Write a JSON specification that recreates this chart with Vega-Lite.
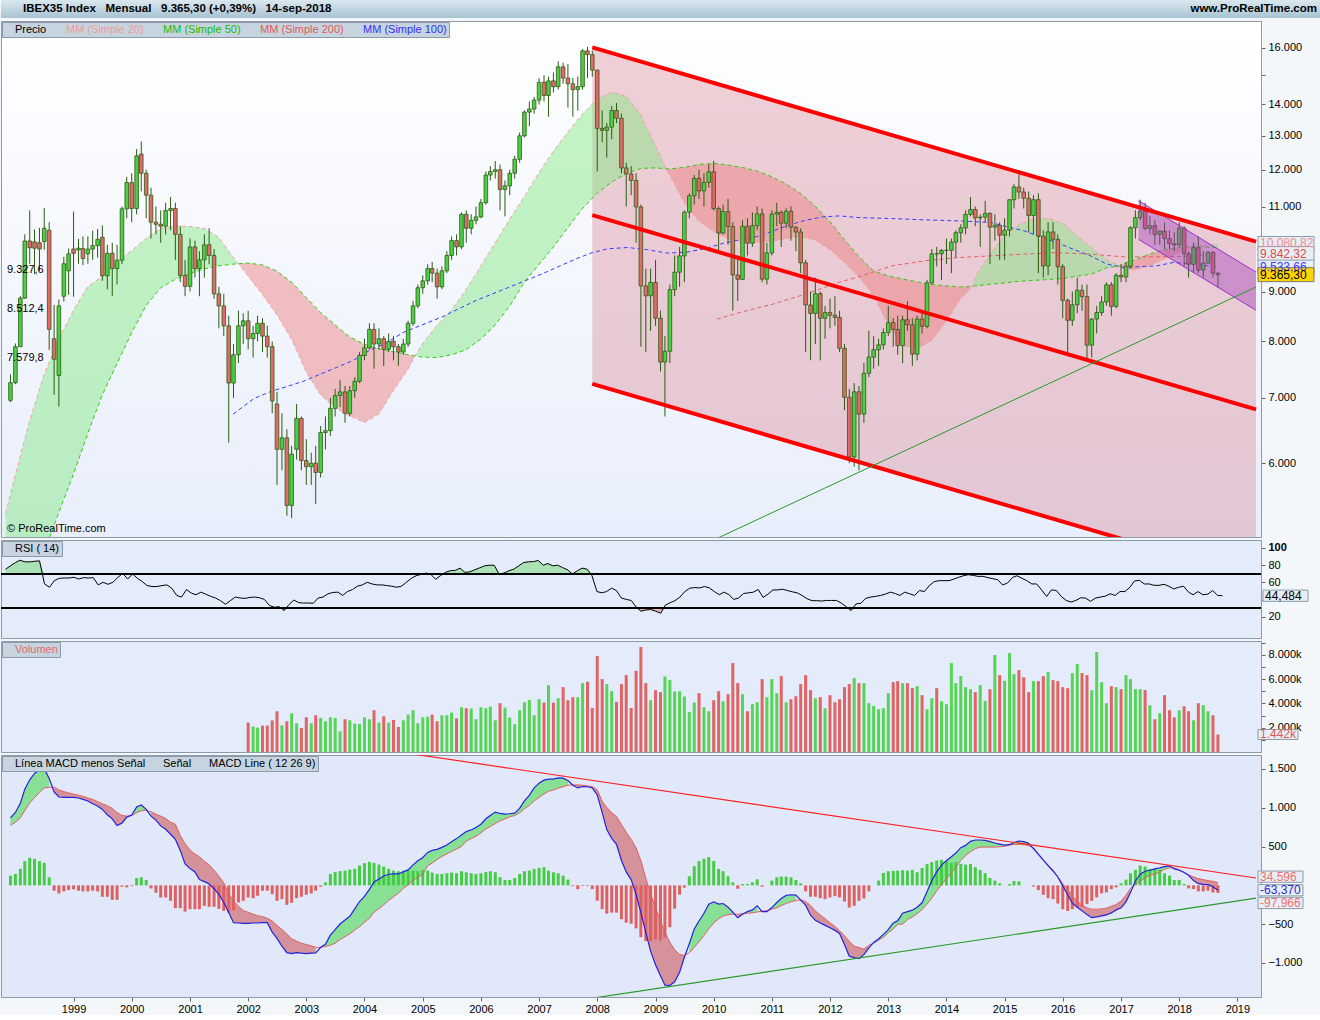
{
"$schema":"https://vega.github.io/schema/vega-lite/v6.json",
"padding":0,
"background":"#f4f7fa",
"spacing":3,
"bounds":"flush",
"config":{"font":"Liberation Sans","view":{"stroke":"#8b9bab"},"axis":{"labelFont":"Liberation Sans","labelFontSize":11,"labelColor":"#000000","tickColor":"#666666","domainColor":"#8b9bab","grid":false,"title":null,"labelOverlap":false},"text":{"font":"Liberation Sans","fontSize":11},"legend":{"labelFont":"Liberation Sans","labelFontSize":11,"symbolSize":0,"symbolStrokeWidth":0,"symbolOpacity":0,"labelOffset":0,"padding":2,"columnPadding":8,"fillColor":"#c6d4e0","strokeColor":"#8b9bab","orient":"top-left","offset":1,"direction":"horizontal"}},
"datasets":{
"hdr":[{"pos":"L","t":"IBEX35 Index\u00a0\u00a0\u00a0Mensual\u00a0\u00a0\u00a09.365,30 (+0,39%)\u00a0\u00a0\u00a014-sep-2018"},{"pos":"R","t":"www.ProRealTime.com"}],
"mn":[
{"d":"1997-12-01","o":6960,"h":7400,"l":6930,"c":7255,"r":75.2,"mc":870,"sl":771,"hs":125,"sq":1},
{"d":"1998-01-01","o":7255,"h":7960,"l":7230,"c":7900,"r":79.1,"mc":939,"sl":814,"hs":147,"sq":1},
{"d":"1998-02-01","o":7900,"h":8900,"l":7900,"c":8860,"r":82.9,"mc":1056,"sl":870,"hs":212,"sq":1},
{"d":"1998-03-01","o":8860,"h":10300,"l":8850,"c":10140,"r":85.6,"mc":1238,"sl":965,"hs":312,"sq":1},
{"d":"1998-04-01","o":10140,"h":10900,"l":9610,"c":9980,"r":83.7,"mc":1359,"sl":1060,"hs":355,"sq":1},
{"d":"1998-05-01","o":10120,"h":10420,"l":9380,"c":9970,"r":83.7,"mc":1442,"sl":1130,"hs":342,"sq":1},
{"d":"1998-06-01","o":10100,"h":10460,"l":9450,"c":9950,"r":84.4,"mc":1485,"sl":1199,"hs":312,"sq":1},
{"d":"1998-07-01","o":10130,"h":10960,"l":9930,"c":10450,"r":84.8,"mc":1502,"sl":1255,"hs":290,"sq":1},
{"d":"1998-08-01","o":10400,"h":10600,"l":7840,"c":8230,"r":58.1,"mc":1377,"sl":1264,"hs":104,"sq":1},
{"d":"1998-09-01","o":8050,"h":8720,"l":7050,"c":7670,"r":54.3,"mc":1203,"sl":1264,"hs":-69,"sq":2},
{"d":"1998-10-01","o":7380,"h":8830,"l":6860,"c":8700,"r":61.9,"mc":1138,"sl":1229,"hs":-104,"sq":2},
{"d":"1998-11-01","o":8900,"h":9770,"l":8790,"c":9610,"r":64.6,"mc":1134,"sl":1208,"hs":-78,"sq":2},
{"d":"1998-12-01","o":9450,"h":9960,"l":8930,"c":9837,"r":65.0,"mc":1134,"sl":1190,"hs":-61,"sq":2},
{"d":"1999-01-01","o":9950,"h":10870,"l":8890,"c":9850,"r":65.0,"mc":1134,"sl":1177,"hs":-52,"sq":2},
{"d":"1999-02-01","o":9930,"h":10190,"l":9610,"c":9970,"r":65.8,"mc":1125,"sl":1160,"hs":-69,"sq":2},
{"d":"1999-03-01","o":9960,"h":10250,"l":9580,"c":9730,"r":63.8,"mc":1108,"sl":1147,"hs":-78,"sq":2},
{"d":"1999-04-01","o":9840,"h":10250,"l":9610,"c":9950,"r":65.4,"mc":1087,"sl":1125,"hs":-78,"sq":2},
{"d":"1999-05-01","o":9950,"h":10390,"l":9700,"c":10030,"r":65.0,"mc":1052,"sl":1108,"hs":-69,"sq":2},
{"d":"1999-06-01","o":10030,"h":10430,"l":9750,"c":10180,"r":65.4,"mc":1022,"sl":1078,"hs":-78,"sq":2},
{"d":"1999-07-01","o":10230,"h":10520,"l":9230,"c":9340,"r":57.0,"mc":978,"sl":1052,"hs":-147,"sq":2},
{"d":"1999-08-01","o":9340,"h":10050,"l":9050,"c":9850,"r":60.0,"mc":909,"sl":1026,"hs":-147,"sq":2},
{"d":"1999-09-01","o":9850,"h":10100,"l":8900,"c":9500,"r":57.7,"mc":857,"sl":991,"hs":-186,"sq":2},
{"d":"1999-10-01","o":9500,"h":10050,"l":9150,"c":9690,"r":60.0,"mc":771,"sl":939,"hs":-186,"sq":2},
{"d":"1999-11-01","o":9690,"h":11000,"l":9600,"c":10940,"r":65.8,"mc":801,"sl":900,"hs":-17,"sq":2},
{"d":"1999-12-01","o":10940,"h":11800,"l":10700,"c":11641,"r":70.3,"mc":879,"sl":892,"hs":-26,"sq":2},
{"d":"2000-01-01","o":11641,"h":11900,"l":10600,"c":10950,"r":63.8,"mc":905,"sl":898,"hs":-9,"sq":3},
{"d":"2000-02-01","o":10950,"h":12600,"l":10800,"c":12400,"r":69.6,"mc":1009,"sl":935,"hs":95,"sq":3},
{"d":"2000-03-01","o":12450,"h":12830,"l":11400,"c":11900,"r":64.6,"mc":1035,"sl":961,"hs":104,"sq":3},
{"d":"2000-04-01","o":11900,"h":12000,"l":10700,"c":11300,"r":60.8,"mc":978,"sl":965,"hs":69,"sq":3},
{"d":"2000-05-01","o":11300,"h":11500,"l":10200,"c":10600,"r":56.2,"mc":892,"sl":948,"hs":-39,"sq":4},
{"d":"2000-06-01","o":10600,"h":11000,"l":10300,"c":10550,"r":55.1,"mc":840,"sl":918,"hs":-95,"sq":4},
{"d":"2000-07-01","o":10550,"h":10900,"l":10100,"c":10500,"r":55.1,"mc":766,"sl":892,"hs":-156,"sq":4},
{"d":"2000-08-01","o":10500,"h":11100,"l":10300,"c":10900,"r":56.2,"mc":723,"sl":861,"hs":-156,"sq":4},
{"d":"2000-09-01","o":10900,"h":11250,"l":10400,"c":10950,"r":57.0,"mc":658,"sl":814,"hs":-199,"sq":4},
{"d":"2000-10-01","o":10950,"h":11100,"l":9700,"c":10300,"r":53.2,"mc":593,"sl":788,"hs":-294,"sq":4},
{"d":"2000-11-01","o":10300,"h":10500,"l":9200,"c":9350,"r":44.8,"mc":450,"sl":641,"hs":-294,"sq":4},
{"d":"2000-12-01","o":9350,"h":9700,"l":8900,"c":9110,"r":42.9,"mc":277,"sl":537,"hs":-338,"sq":4},
{"d":"2001-01-01","o":9110,"h":10200,"l":9000,"c":10000,"r":51.6,"mc":216,"sl":455,"hs":-307,"sq":4},
{"d":"2001-02-01","o":10000,"h":10150,"l":9300,"c":9500,"r":47.4,"mc":173,"sl":403,"hs":-307,"sq":4},
{"d":"2001-03-01","o":9500,"h":9900,"l":8900,"c":9700,"r":45.6,"mc":74,"sl":368,"hs":-307,"sq":4},
{"d":"2001-04-01","o":9700,"h":10300,"l":9300,"c":10050,"r":48.6,"mc":48,"sl":312,"hs":-264,"sq":4},
{"d":"2001-05-01","o":10050,"h":10450,"l":9600,"c":9800,"r":46.3,"mc":17,"sl":264,"hs":-277,"sq":4},
{"d":"2001-06-01","o":9800,"h":9950,"l":8850,"c":8950,"r":43.7,"mc":-43,"sl":195,"hs":-277,"sq":4},
{"d":"2001-07-01","o":8950,"h":9100,"l":8250,"c":8700,"r":41.8,"mc":-117,"sl":117,"hs":-303,"sq":4},
{"d":"2001-08-01","o":8700,"h":8950,"l":8100,"c":8300,"r":38.7,"mc":-221,"sl":30,"hs":-329,"sq":4},
{"d":"2001-09-01","o":8300,"h":8500,"l":6300,"c":7250,"r":34.5,"mc":-351,"sl":-104,"hs":-351,"sq":4},
{"d":"2001-10-01","o":7250,"h":7950,"l":7000,"c":7750,"r":38.7,"mc":-481,"sl":-203,"hs":-320,"sq":4},
{"d":"2001-11-01","o":7750,"h":8600,"l":7600,"c":8300,"r":42.9,"mc":-485,"sl":-268,"hs":-221,"sq":4},
{"d":"2001-12-01","o":8300,"h":8550,"l":7950,"c":8398,"r":41.8,"mc":-489,"sl":-325,"hs":-199,"sq":4},
{"d":"2002-01-01","o":8398,"h":8600,"l":7850,"c":8050,"v":2419,"r":41.4,"mc":-489,"sl":-346,"hs":-156,"sq":4},
{"d":"2002-02-01","o":8050,"h":8300,"l":7700,"c":8150,"v":2088,"r":42.5,"mc":-485,"sl":-372,"hs":-165,"sq":4},
{"d":"2002-03-01","o":8150,"h":8500,"l":8000,"c":8350,"v":2005,"r":42.9,"mc":-485,"sl":-390,"hs":-134,"sq":4},
{"d":"2002-04-01","o":8350,"h":8450,"l":7800,"c":8100,"v":2171,"r":42.1,"mc":-481,"sl":-403,"hs":-69,"sq":4},
{"d":"2002-05-01","o":8100,"h":8300,"l":7700,"c":7900,"v":2171,"r":40.2,"mc":-481,"sl":-424,"hs":-69,"sq":4},
{"d":"2002-06-01","o":7900,"h":8000,"l":6750,"c":6950,"v":2600,"r":33.3,"mc":-602,"sl":-459,"hs":-113,"sq":4},
{"d":"2002-07-01","o":6900,"h":7100,"l":5700,"c":6200,"v":3355,"r":31.1,"mc":-684,"sl":-515,"hs":-199,"sq":4},
{"d":"2002-08-01","o":6200,"h":6750,"l":5900,"c":6370,"v":2198,"r":31.8,"mc":-784,"sl":-567,"hs":-178,"sq":4},
{"d":"2002-09-01","o":6370,"h":6500,"l":5300,"c":5430,"v":2529,"r":27.3,"mc":-866,"sl":-628,"hs":-251,"sq":4},
{"d":"2002-10-01","o":5430,"h":6250,"l":5270,"c":6130,"v":3190,"r":34.1,"mc":-879,"sl":-688,"hs":-225,"sq":4},
{"d":"2002-11-01","o":6200,"h":6900,"l":6050,"c":6670,"v":2364,"r":39.5,"mc":-866,"sl":-719,"hs":-165,"sq":4},
{"d":"2002-12-01","o":6670,"h":6700,"l":5900,"c":6037,"v":1978,"r":36.4,"mc":-874,"sl":-745,"hs":-147,"sq":4},
{"d":"2003-01-01","o":6037,"h":6350,"l":5700,"c":5950,"v":2860,"r":36.0,"mc":-879,"sl":-762,"hs":-121,"sq":4},
{"d":"2003-02-01","o":5950,"h":6150,"l":5700,"c":6000,"v":2364,"r":36.0,"mc":-874,"sl":-779,"hs":-104,"sq":4},
{"d":"2003-03-01","o":6000,"h":6250,"l":5450,"c":5870,"v":3025,"r":35.7,"mc":-870,"sl":-797,"hs":-69,"sq":4},
{"d":"2003-04-01","o":5870,"h":6550,"l":5800,"c":6450,"v":2804,"r":41.8,"mc":-797,"sl":-801,"hs":-17,"sq":5},
{"d":"2003-05-01","o":6450,"h":6700,"l":6200,"c":6480,"v":2529,"r":42.9,"mc":-758,"sl":-788,"hs":39,"sq":5},
{"d":"2003-06-01","o":6480,"h":7000,"l":6400,"c":6830,"v":2860,"r":46.7,"mc":-641,"sl":-771,"hs":147,"sq":5},
{"d":"2003-07-01","o":6830,"h":7150,"l":6700,"c":7040,"v":2804,"r":48.2,"mc":-571,"sl":-745,"hs":173,"sq":5},
{"d":"2003-08-01","o":7040,"h":7300,"l":6850,"c":7100,"v":1702,"r":48.6,"mc":-498,"sl":-697,"hs":182,"sq":5},
{"d":"2003-09-01","o":7100,"h":7200,"l":6600,"c":6750,"v":2694,"r":44.8,"mc":-446,"sl":-662,"hs":190,"sq":5},
{"d":"2003-10-01","o":6750,"h":7200,"l":6700,"c":7120,"v":2612,"r":49.4,"mc":-398,"sl":-623,"hs":203,"sq":5},
{"d":"2003-11-01","o":7120,"h":7350,"l":7000,"c":7280,"v":2336,"r":51.6,"mc":-303,"sl":-576,"hs":212,"sq":5},
{"d":"2003-12-01","o":7280,"h":7800,"l":7250,"c":7737,"v":2309,"r":55.5,"mc":-208,"sl":-532,"hs":255,"sq":5},
{"d":"2004-01-01","o":7737,"h":8050,"l":7650,"c":7880,"v":2860,"r":57.0,"mc":-143,"sl":-476,"hs":286,"sq":5},
{"d":"2004-02-01","o":7880,"h":8350,"l":7850,"c":8230,"v":2694,"r":60.0,"mc":-52,"sl":-424,"hs":303,"sq":5},
{"d":"2004-03-01","o":8230,"h":8350,"l":7500,"c":7950,"v":3438,"r":58.1,"mc":43,"sl":-346,"hs":290,"sq":5},
{"d":"2004-04-01","o":7950,"h":8250,"l":7850,"c":8050,"v":2419,"r":57.0,"mc":82,"sl":-299,"hs":268,"sq":5},
{"d":"2004-05-01","o":8050,"h":8100,"l":7550,"c":7850,"v":2942,"r":57.0,"mc":121,"sl":-251,"hs":242,"sq":5},
{"d":"2004-06-01","o":7850,"h":8150,"l":7800,"c":8000,"v":2419,"r":56.2,"mc":143,"sl":-195,"hs":212,"sq":5},
{"d":"2004-07-01","o":8000,"h":8100,"l":7650,"c":7900,"v":2639,"r":55.5,"mc":147,"sl":-147,"hs":190,"sq":5},
{"d":"2004-08-01","o":7900,"h":7950,"l":7550,"c":7800,"v":2060,"r":54.3,"mc":147,"sl":-100,"hs":182,"sq":5},
{"d":"2004-09-01","o":7800,"h":8050,"l":7750,"c":7950,"v":2612,"r":55.5,"mc":173,"sl":-39,"hs":190,"sq":5},
{"d":"2004-10-01","o":7950,"h":8400,"l":7900,"c":8350,"v":3080,"r":60.0,"mc":199,"sl":9,"hs":190,"sq":5},
{"d":"2004-11-01","o":8350,"h":8800,"l":8300,"c":8700,"v":3438,"r":64.6,"mc":264,"sl":61,"hs":190,"sq":5},
{"d":"2004-12-01","o":8700,"h":9150,"l":8650,"c":9081,"v":2364,"r":67.6,"mc":316,"sl":104,"hs":182,"sq":5},
{"d":"2005-01-01","o":9081,"h":9350,"l":8950,"c":9230,"v":2860,"r":69.2,"mc":359,"sl":143,"hs":199,"sq":5},
{"d":"2005-02-01","o":9230,"h":9600,"l":9150,"c":9500,"v":2915,"r":70.7,"mc":424,"sl":255,"hs":190,"sq":5},
{"d":"2005-03-01","o":9500,"h":9650,"l":9200,"c":9400,"v":3080,"r":69.6,"mc":450,"sl":286,"hs":165,"sq":5},
{"d":"2005-04-01","o":9400,"h":9500,"l":8850,"c":9100,"v":2529,"r":63.5,"mc":463,"sl":333,"hs":147,"sq":5},
{"d":"2005-05-01","o":9100,"h":9550,"l":9050,"c":9450,"v":3025,"r":67.6,"mc":489,"sl":372,"hs":147,"sq":5},
{"d":"2005-06-01","o":9450,"h":9900,"l":9400,"c":9800,"v":3025,"r":71.5,"mc":519,"sl":407,"hs":156,"sq":5},
{"d":"2005-07-01","o":9800,"h":10250,"l":9700,"c":10150,"v":3245,"r":73.4,"mc":563,"sl":437,"hs":165,"sq":5},
{"d":"2005-08-01","o":10150,"h":10300,"l":9800,"c":10000,"v":2777,"r":73.8,"mc":602,"sl":468,"hs":156,"sq":5},
{"d":"2005-09-01","o":10000,"h":10850,"l":9950,"c":10800,"v":3686,"r":76.4,"mc":649,"sl":502,"hs":182,"sq":5},
{"d":"2005-10-01","o":10800,"h":10900,"l":10100,"c":10450,"v":3603,"r":71.5,"mc":693,"sl":571,"hs":169,"sq":5},
{"d":"2005-11-01","o":10450,"h":10800,"l":10300,"c":10650,"v":3576,"r":72.2,"mc":714,"sl":602,"hs":156,"sq":5},
{"d":"2005-12-01","o":10650,"h":11000,"l":10550,"c":10734,"v":2694,"r":74.5,"mc":745,"sl":632,"hs":147,"sq":5},
{"d":"2006-01-01","o":10734,"h":11200,"l":10700,"c":11100,"v":3686,"r":76.8,"mc":788,"sl":675,"hs":156,"sq":5},
{"d":"2006-02-01","o":11100,"h":11950,"l":11050,"c":11850,"v":3603,"r":79.1,"mc":857,"sl":727,"hs":173,"sq":5},
{"d":"2006-03-01","o":11850,"h":12100,"l":11700,"c":11950,"v":3741,"r":79.8,"mc":900,"sl":758,"hs":182,"sq":5},
{"d":"2006-04-01","o":11950,"h":12250,"l":11750,"c":12000,"v":2612,"r":79.8,"mc":944,"sl":797,"hs":169,"sq":5},
{"d":"2006-05-01","o":12000,"h":12150,"l":10900,"c":11450,"v":4017,"r":69.6,"mc":926,"sl":831,"hs":104,"sq":5},
{"d":"2006-06-01","o":11450,"h":11700,"l":10750,"c":11550,"v":3658,"r":70.7,"mc":918,"sl":857,"hs":69,"sq":5},
{"d":"2006-07-01","o":11550,"h":12000,"l":11300,"c":11900,"v":2832,"r":73.4,"mc":922,"sl":883,"hs":69,"sq":5},
{"d":"2006-08-01","o":11900,"h":12400,"l":11750,"c":12300,"v":2281,"r":75.2,"mc":931,"sl":900,"hs":95,"sq":5},
{"d":"2006-09-01","o":12300,"h":13100,"l":12200,"c":13000,"v":3438,"r":79.1,"mc":991,"sl":935,"hs":147,"sq":5},
{"d":"2006-10-01","o":13000,"h":13800,"l":12950,"c":13750,"v":4099,"r":82.9,"mc":1087,"sl":987,"hs":182,"sq":5},
{"d":"2006-11-01","o":13750,"h":14100,"l":13300,"c":13850,"v":4292,"r":83.7,"mc":1160,"sl":1030,"hs":190,"sq":5},
{"d":"2006-12-01","o":13850,"h":14250,"l":13700,"c":14146,"v":3025,"r":84.0,"mc":1255,"sl":1087,"hs":212,"sq":5},
{"d":"2007-01-01","o":14146,"h":14900,"l":14000,"c":14750,"v":4347,"r":85.2,"mc":1316,"sl":1134,"hs":225,"sq":5},
{"d":"2007-02-01","o":14750,"h":15000,"l":14100,"c":14300,"v":4072,"r":79.8,"mc":1355,"sl":1177,"hs":234,"sq":5},
{"d":"2007-03-01","o":14300,"h":14950,"l":13600,"c":14800,"v":5504,"r":81.8,"mc":1368,"sl":1212,"hs":190,"sq":5},
{"d":"2007-04-01","o":14800,"h":15100,"l":14400,"c":14600,"v":4072,"r":79.1,"mc":1368,"sl":1229,"hs":169,"sq":5},
{"d":"2007-05-01","o":14600,"h":15500,"l":14500,"c":15300,"v":4430,"r":79.8,"mc":1385,"sl":1251,"hs":156,"sq":5},
{"d":"2007-06-01","o":15300,"h":15450,"l":14700,"c":14900,"v":5339,"r":77.1,"mc":1381,"sl":1273,"hs":125,"sq":5},
{"d":"2007-07-01","o":14900,"h":15400,"l":13900,"c":14700,"v":4264,"r":74.5,"mc":1351,"sl":1290,"hs":74,"sq":5},
{"d":"2007-08-01","o":14700,"h":14900,"l":13600,"c":14500,"v":4512,"r":69.6,"mc":1290,"sl":1294,"hs":-9,"sq":6},
{"d":"2007-09-01","o":14500,"h":14950,"l":13800,"c":14600,"v":4512,"r":73.4,"mc":1255,"sl":1294,"hs":-48,"sq":6},
{"d":"2007-10-01","o":14600,"h":15950,"l":14500,"c":15890,"v":5669,"r":76.4,"mc":1273,"sl":1290,"hs":-9,"sq":6},
{"d":"2007-11-01","o":15890,"h":16040,"l":14900,"c":15750,"v":5780,"r":75.2,"mc":1270,"sl":1281,"hs":-9,"sq":6},
{"d":"2007-12-01","o":15750,"h":15900,"l":14950,"c":15182,"v":3631,"r":67.6,"mc":1255,"sl":1273,"hs":-48,"sq":6},
{"d":"2008-01-01","o":15182,"h":15200,"l":11950,"c":13230,"v":7901,"r":49.3,"mc":1165,"sl":1229,"hs":-199,"sq":6},
{"d":"2008-02-01","o":13230,"h":13800,"l":12800,"c":13170,"v":6000,"r":47.8,"mc":939,"sl":1082,"hs":-307,"sq":6},
{"d":"2008-03-01","o":13170,"h":13400,"l":12350,"c":13270,"v":5587,"r":49.3,"mc":719,"sl":1004,"hs":-364,"sq":6},
{"d":"2008-04-01","o":13270,"h":13950,"l":12900,"c":13800,"v":5008,"r":53.2,"mc":606,"sl":935,"hs":-351,"sq":6},
{"d":"2008-05-01","o":13800,"h":14050,"l":13400,"c":13550,"v":4127,"r":50.5,"mc":528,"sl":887,"hs":-351,"sq":6},
{"d":"2008-06-01","o":13550,"h":13700,"l":11900,"c":12050,"v":5587,"r":41.8,"mc":320,"sl":784,"hs":-437,"sq":6},
{"d":"2008-07-01","o":12050,"h":12200,"l":11000,"c":11880,"v":6330,"r":40.2,"mc":173,"sl":684,"hs":-481,"sq":6},
{"d":"2008-08-01","o":11880,"h":12100,"l":11300,"c":11700,"v":3631,"r":39.0,"mc":74,"sl":593,"hs":-494,"sq":6},
{"d":"2008-09-01","o":11700,"h":11900,"l":10100,"c":10990,"v":6689,"r":31.4,"mc":-117,"sl":481,"hs":-554,"sq":6},
{"d":"2008-10-01","o":10990,"h":11050,"l":7900,"c":9120,"v":8645,"r":26.5,"mc":-351,"sl":320,"hs":-667,"sq":6},
{"d":"2008-11-01","o":9120,"h":9500,"l":7800,"c":8910,"v":5670,"r":28.0,"mc":-610,"sl":90,"hs":-719,"sq":6},
{"d":"2008-12-01","o":8910,"h":9500,"l":8200,"c":9196,"v":4264,"r":28.4,"mc":-848,"sl":-110,"hs":-719,"sq":6},
{"d":"2009-01-01","o":9196,"h":9700,"l":8300,"c":8450,"v":5090,"r":26.5,"mc":-1022,"sl":-290,"hs":-697,"sq":6},
{"d":"2009-02-01","o":8450,"h":8600,"l":7450,"c":7620,"v":4925,"r":24.2,"mc":-1165,"sl":-455,"hs":-710,"sq":6},
{"d":"2009-03-01","o":7620,"h":8100,"l":6700,"c":7815,"v":6220,"r":33.4,"mc":-1286,"sl":-606,"hs":-675,"sq":6},
{"d":"2009-04-01","o":7815,"h":9150,"l":7600,"c":9040,"v":5917,"r":36.4,"mc":-1290,"sl":-733,"hs":-540,"sq":6},
{"d":"2009-05-01","o":9040,"h":9800,"l":8900,"c":9420,"v":4980,"r":38.7,"mc":-1242,"sl":-830,"hs":-300,"sq":6},
{"d":"2009-06-01","o":9420,"h":10000,"l":9100,"c":9790,"v":5008,"r":42.9,"mc":-1121,"sl":-890,"hs":-120,"sq":6},
{"d":"2009-07-01","o":9790,"h":10900,"l":9200,"c":10855,"v":4567,"r":49.3,"mc":-926,"sl":-902,"hs":-30,"sq":6},
{"d":"2009-08-01","o":10855,"h":11350,"l":10700,"c":11285,"v":3300,"r":53.2,"mc":-753,"sl":-868,"hs":117,"sq":7},
{"d":"2009-09-01","o":11285,"h":11850,"l":11050,"c":11756,"v":4072,"r":53.9,"mc":-563,"sl":-800,"hs":247,"sq":7},
{"d":"2009-10-01","o":11756,"h":12000,"l":11200,"c":11414,"v":4843,"r":53.5,"mc":-459,"sl":-725,"hs":312,"sq":7},
{"d":"2009-11-01","o":11414,"h":11900,"l":11000,"c":11644,"v":3686,"r":55.1,"mc":-359,"sl":-645,"hs":342,"sq":7},
{"d":"2009-12-01","o":11644,"h":12150,"l":11500,"c":11940,"v":3355,"r":53.5,"mc":-242,"sl":-560,"hs":364,"sq":7},
{"d":"2010-01-01","o":11940,"h":12250,"l":10900,"c":10947,"v":4264,"r":49.3,"mc":-212,"sl":-485,"hs":312,"sq":7},
{"d":"2010-02-01","o":10947,"h":11000,"l":9900,"c":10333,"v":5008,"r":45.6,"mc":-242,"sl":-430,"hs":212,"sq":7},
{"d":"2010-03-01","o":10333,"h":11050,"l":10300,"c":10871,"v":4182,"r":48.6,"mc":-234,"sl":-395,"hs":182,"sq":7},
{"d":"2010-04-01","o":10871,"h":11200,"l":10050,"c":10492,"v":4760,"r":45.9,"mc":-281,"sl":-378,"hs":117,"sq":7},
{"d":"2010-05-01","o":10492,"h":10600,"l":8600,"c":9359,"v":7322,"r":40.2,"mc":-346,"sl":-370,"hs":39,"sq":7},
{"d":"2010-06-01","o":9359,"h":9800,"l":8800,"c":9263,"v":5670,"r":41.8,"mc":-416,"sl":-374,"hs":-43,"sq":8},
{"d":"2010-07-01","o":9263,"h":10650,"l":9250,"c":10499,"v":4760,"r":47.0,"mc":-372,"sl":-364,"hs":17,"sq":8},
{"d":"2010-08-01","o":10499,"h":10700,"l":9800,"c":10088,"v":3355,"r":47.8,"mc":-338,"sl":-359,"hs":17,"sq":9},
{"d":"2010-09-01","o":10088,"h":10850,"l":10000,"c":10514,"v":3934,"r":48.6,"mc":-316,"sl":-355,"hs":39,"sq":9},
{"d":"2010-10-01","o":10514,"h":11000,"l":10400,"c":10812,"v":4099,"r":51.6,"mc":-264,"sl":-342,"hs":78,"sq":9},
{"d":"2010-11-01","o":10812,"h":10950,"l":9200,"c":9267,"v":6000,"r":42.5,"mc":-338,"sl":-333,"hs":-17,"sq":10},
{"d":"2010-12-01","o":9267,"h":10100,"l":9150,"c":9859,"v":4512,"r":46.3,"mc":-338,"sl":-325,"hs":0,"sq":10},
{"d":"2011-01-01","o":9859,"h":10900,"l":9800,"c":10806,"v":6000,"r":51.2,"mc":-286,"sl":-307,"hs":61,"sq":11},
{"d":"2011-02-01","o":10806,"h":11100,"l":10500,"c":10850,"v":4843,"r":51.2,"mc":-221,"sl":-290,"hs":104,"sq":11},
{"d":"2011-03-01","o":10850,"h":10900,"l":10000,"c":10576,"v":6248,"r":52.0,"mc":-169,"sl":-260,"hs":113,"sq":11},
{"d":"2011-04-01","o":10576,"h":10950,"l":10450,"c":10879,"v":4099,"r":50.5,"mc":-130,"sl":-234,"hs":113,"sq":11},
{"d":"2011-05-01","o":10879,"h":11000,"l":10150,"c":10476,"v":4347,"r":49.0,"mc":-121,"sl":-212,"hs":104,"sq":11},
{"d":"2011-06-01","o":10476,"h":10500,"l":9900,"c":10359,"v":4595,"r":47.8,"mc":-126,"sl":-195,"hs":69,"sq":11},
{"d":"2011-07-01","o":10359,"h":10450,"l":9400,"c":9631,"v":5587,"r":44.8,"mc":-190,"sl":-185,"hs":26,"sq":12},
{"d":"2011-08-01","o":9631,"h":9700,"l":7800,"c":8718,"v":6330,"r":41.0,"mc":-255,"sl":-208,"hs":-78,"sq":12},
{"d":"2011-09-01","o":8718,"h":9000,"l":7650,"c":8546,"v":5090,"r":38.7,"mc":-385,"sl":-260,"hs":-147,"sq":12},
{"d":"2011-10-01","o":8546,"h":9300,"l":7950,"c":8955,"v":4430,"r":38.7,"mc":-450,"sl":-329,"hs":-147,"sq":12},
{"d":"2011-11-01","o":8955,"h":9000,"l":7650,"c":8449,"v":4512,"r":38.3,"mc":-485,"sl":-381,"hs":-165,"sq":12},
{"d":"2011-12-01","o":8449,"h":8700,"l":8050,"c":8566,"v":3603,"r":39.0,"mc":-515,"sl":-428,"hs":-177,"sq":12},
{"d":"2012-01-01","o":8566,"h":8850,"l":8250,"c":8509,"v":4678,"r":39.0,"mc":-545,"sl":-481,"hs":-156,"sq":12},
{"d":"2012-02-01","o":8509,"h":8900,"l":8300,"c":8465,"v":4099,"r":39.0,"mc":-580,"sl":-528,"hs":-139,"sq":12},
{"d":"2012-03-01","o":8465,"h":8600,"l":7800,"c":7870,"v":4347,"r":36.0,"mc":-619,"sl":-584,"hs":-156,"sq":12},
{"d":"2012-04-01","o":7870,"h":7950,"l":6800,"c":7011,"v":5339,"r":31.8,"mc":-762,"sl":-649,"hs":-208,"sq":12},
{"d":"2012-05-01","o":7011,"h":7150,"l":6000,"c":6090,"v":5587,"r":27.3,"mc":-913,"sl":-719,"hs":-286,"sq":12},
{"d":"2012-06-01","o":6090,"h":7250,"l":5950,"c":7102,"v":6083,"r":34.9,"mc":-931,"sl":-784,"hs":-264,"sq":12},
{"d":"2012-07-01","o":7102,"h":7200,"l":5900,"c":6738,"v":5670,"r":35.7,"mc":-944,"sl":-801,"hs":-199,"sq":12},
{"d":"2012-08-01","o":6738,"h":7600,"l":6600,"c":7420,"v":5670,"r":41.4,"mc":-892,"sl":-822,"hs":-169,"sq":12},
{"d":"2012-09-01","o":7420,"h":8200,"l":7350,"c":7708,"v":4017,"r":42.9,"mc":-805,"sl":-771,"hs":-78,"sq":12},
{"d":"2012-10-01","o":7708,"h":8100,"l":7500,"c":7843,"v":3796,"r":43.7,"mc":-735,"sl":-745,"hs":0,"sq":13},
{"d":"2012-11-01","o":7843,"h":8050,"l":7550,"c":7934,"v":3521,"r":44.8,"mc":-690,"sl":-706,"hs":61,"sq":13},
{"d":"2012-12-01","o":7934,"h":8250,"l":7850,"c":8168,"v":3603,"r":46.3,"mc":-632,"sl":-671,"hs":160,"sq":13},
{"d":"2013-01-01","o":8168,"h":8700,"l":8100,"c":8362,"v":4843,"r":48.6,"mc":-571,"sl":-610,"hs":182,"sq":13},
{"d":"2013-02-01","o":8362,"h":8450,"l":7900,"c":8230,"v":5752,"r":47.0,"mc":-485,"sl":-563,"hs":186,"sq":13},
{"d":"2013-03-01","o":8230,"h":8500,"l":7750,"c":7920,"v":5835,"r":44.8,"mc":-455,"sl":-502,"hs":190,"sq":13},
{"d":"2013-04-01","o":7920,"h":8500,"l":7600,"c":8419,"v":5670,"r":48.6,"mc":-359,"sl":-498,"hs":195,"sq":13},
{"d":"2013-05-01","o":8419,"h":8800,"l":8200,"c":8320,"v":5670,"r":46.7,"mc":-338,"sl":-442,"hs":190,"sq":13},
{"d":"2013-06-01","o":8320,"h":8450,"l":7550,"c":7762,"v":5256,"r":44.8,"mc":-320,"sl":-407,"hs":199,"sq":13},
{"d":"2013-07-01","o":7762,"h":8500,"l":7650,"c":8434,"v":5421,"r":50.5,"mc":-281,"sl":-364,"hs":169,"sq":13},
{"d":"2013-08-01","o":8434,"h":8600,"l":8150,"c":8290,"v":4678,"r":49.3,"mc":-225,"sl":-312,"hs":225,"sq":13},
{"d":"2013-09-01","o":8290,"h":9250,"l":8250,"c":9186,"v":3521,"r":56.2,"mc":-82,"sl":-242,"hs":277,"sq":13},
{"d":"2013-10-01","o":9186,"h":9950,"l":9150,"c":9838,"v":4430,"r":60.8,"mc":61,"sl":-164,"hs":299,"sq":13},
{"d":"2013-11-01","o":9838,"h":10000,"l":9550,"c":9837,"v":5256,"r":61.9,"mc":173,"sl":-69,"hs":320,"sq":13},
{"d":"2013-12-01","o":9837,"h":9950,"l":9250,"c":9917,"v":4182,"r":61.9,"mc":260,"sl":9,"hs":329,"sq":13},
{"d":"2014-01-01","o":9917,"h":10200,"l":9600,"c":9920,"v":3934,"r":61.9,"mc":320,"sl":82,"hs":312,"sq":13},
{"d":"2014-02-01","o":9920,"h":10200,"l":9400,"c":10114,"v":7322,"r":63.8,"mc":368,"sl":160,"hs":286,"sq":13},
{"d":"2014-03-01","o":10114,"h":10400,"l":9750,"c":10340,"v":5670,"r":65.7,"mc":416,"sl":234,"hs":299,"sq":13},
{"d":"2014-04-01","o":10340,"h":10550,"l":10100,"c":10459,"v":6248,"r":67.6,"mc":485,"sl":320,"hs":277,"sq":13},
{"d":"2014-05-01","o":10459,"h":10900,"l":10300,"c":10799,"v":5339,"r":68.8,"mc":515,"sl":385,"hs":268,"sq":13},
{"d":"2014-06-01","o":10799,"h":11250,"l":10750,"c":10923,"v":5174,"r":68.0,"mc":567,"sl":433,"hs":277,"sq":13},
{"d":"2014-07-01","o":10923,"h":11000,"l":10500,"c":10708,"v":4925,"r":66.9,"mc":584,"sl":472,"hs":234,"sq":13},
{"d":"2014-08-01","o":10708,"h":10800,"l":10000,"c":10729,"v":5504,"r":66.9,"mc":584,"sl":493,"hs":199,"sq":13},
{"d":"2014-09-01","o":10729,"h":11150,"l":10600,"c":10826,"v":4209,"r":65.4,"mc":580,"sl":493,"hs":156,"sq":13},
{"d":"2014-10-01","o":10826,"h":10850,"l":9600,"c":10478,"v":5174,"r":64.2,"mc":563,"sl":493,"hs":95,"sq":13},
{"d":"2014-11-01","o":10478,"h":10800,"l":10150,"c":10526,"v":7983,"r":63.0,"mc":545,"sl":493,"hs":61,"sq":13},
{"d":"2014-12-01","o":10526,"h":10600,"l":9700,"c":10280,"v":6330,"r":56.9,"mc":532,"sl":498,"hs":26,"sq":13},
{"d":"2015-01-01","o":10280,"h":10700,"l":9700,"c":10403,"v":5862,"r":59.2,"mc":519,"sl":502,"hs":0,"sq":13},
{"d":"2015-02-01","o":10403,"h":11200,"l":10250,"c":11178,"v":8149,"r":65.7,"mc":524,"sl":519,"hs":17,"sq":13},
{"d":"2015-03-01","o":11178,"h":11600,"l":10950,"c":11521,"v":6413,"r":67.6,"mc":550,"sl":528,"hs":56,"sq":13},
{"d":"2015-04-01","o":11521,"h":11870,"l":11200,"c":11385,"v":6744,"r":64.6,"mc":571,"sl":528,"hs":52,"sq":13},
{"d":"2015-05-01","o":11385,"h":11500,"l":10950,"c":11218,"v":6165,"r":61.9,"mc":563,"sl":524,"hs":0,"sq":13},
{"d":"2015-06-01","o":11218,"h":11400,"l":10350,"c":10770,"v":4925,"r":58.1,"mc":541,"sl":511,"hs":0,"sq":13},
{"d":"2015-07-01","o":10770,"h":11300,"l":10300,"c":11181,"v":5835,"r":58.1,"mc":472,"sl":485,"hs":-17,"sq":14},
{"d":"2015-08-01","o":11181,"h":11350,"l":9400,"c":10259,"v":5835,"r":51.2,"mc":400,"sl":407,"hs":-61,"sq":14},
{"d":"2015-09-01","o":10259,"h":10400,"l":9300,"c":9560,"v":6248,"r":43.6,"mc":325,"sl":329,"hs":-121,"sq":14},
{"d":"2015-10-01","o":9560,"h":10600,"l":9350,"c":10360,"v":6578,"r":51.2,"mc":255,"sl":260,"hs":-165,"sq":14},
{"d":"2015-11-01","o":10360,"h":10600,"l":9950,"c":10180,"v":5917,"r":50.5,"mc":185,"sl":195,"hs":-177,"sq":14},
{"d":"2015-12-01","o":10180,"h":10300,"l":9150,"c":9544,"v":5835,"r":43.6,"mc":108,"sl":112,"hs":-234,"sq":14},
{"d":"2016-01-01","o":9544,"h":9600,"l":8450,"c":8815,"v":5339,"r":39.0,"mc":-9,"sl":22,"hs":-307,"sq":14},
{"d":"2016-02-01","o":8815,"h":8850,"l":7750,"c":8409,"v":5256,"r":37.2,"mc":-121,"sl":-52,"hs":-329,"sq":14},
{"d":"2016-03-01","o":8409,"h":9000,"l":8300,"c":8723,"v":6496,"r":39.0,"mc":-229,"sl":-134,"hs":-307,"sq":14},
{"d":"2016-04-01","o":8723,"h":9300,"l":8550,"c":9026,"v":7239,"r":42.1,"mc":-281,"sl":-203,"hs":-286,"sq":14},
{"d":"2016-05-01","o":9026,"h":9150,"l":8600,"c":8892,"v":6496,"r":41.7,"mc":-329,"sl":-255,"hs":-277,"sq":14},
{"d":"2016-06-01","o":8892,"h":9150,"l":7650,"c":7928,"v":6330,"r":37.9,"mc":-377,"sl":-290,"hs":-242,"sq":14},
{"d":"2016-07-01","o":7928,"h":8450,"l":7700,"c":8433,"v":5090,"r":41.7,"mc":-416,"sl":-307,"hs":-199,"sq":14},
{"d":"2016-08-01","o":8433,"h":8700,"l":8150,"c":8564,"v":8231,"r":42.9,"mc":-407,"sl":-307,"hs":-156,"sq":14},
{"d":"2016-09-01","o":8564,"h":8900,"l":8500,"c":8779,"v":5752,"r":44.0,"mc":-394,"sl":-303,"hs":-104,"sq":14},
{"d":"2016-10-01","o":8779,"h":9200,"l":8700,"c":9144,"v":4017,"r":46.7,"mc":-381,"sl":-294,"hs":-91,"sq":14},
{"d":"2016-11-01","o":9144,"h":9200,"l":8500,"c":8689,"v":5421,"r":44.8,"mc":-355,"sl":-268,"hs":-48,"sq":14},
{"d":"2016-12-01","o":8689,"h":9400,"l":8650,"c":9352,"v":5339,"r":49.3,"mc":-316,"sl":-247,"hs":-26,"sq":14},
{"d":"2017-01-01","o":9352,"h":9600,"l":9200,"c":9315,"v":5174,"r":49.3,"mc":-290,"sl":-203,"hs":26,"sq":14},
{"d":"2017-02-01","o":9315,"h":9650,"l":9200,"c":9555,"v":6330,"r":54.3,"mc":-212,"sl":-126,"hs":74,"sq":14},
{"d":"2017-03-01","o":9555,"h":10500,"l":9500,"c":10463,"v":6000,"r":61.5,"mc":-91,"sl":-39,"hs":156,"sq":14},
{"d":"2017-04-01","o":10463,"h":10900,"l":10200,"c":10716,"v":5174,"r":62.3,"mc":56,"sl":13,"hs":199,"sq":15},
{"d":"2017-05-01","o":10716,"h":11180,"l":10650,"c":10880,"v":5174,"r":58.1,"mc":143,"sl":52,"hs":255,"sq":15},
{"d":"2017-06-01","o":10880,"h":11100,"l":10400,"c":10445,"v":5100,"r":58.1,"mc":182,"sl":95,"hs":242,"sq":15},
{"d":"2017-07-01","o":10445,"h":10750,"l":10300,"c":10515,"v":3850,"r":56.5,"mc":195,"sl":130,"hs":212,"sq":15},
{"d":"2017-08-01","o":10515,"h":10650,"l":10050,"c":10300,"v":2694,"r":56.5,"mc":212,"sl":147,"hs":212,"sq":15},
{"d":"2017-09-01","o":10300,"h":10400,"l":10050,"c":10381,"v":3190,"r":57.7,"mc":225,"sl":173,"hs":199,"sq":15},
{"d":"2017-10-01","o":10381,"h":10600,"l":9950,"c":10198,"v":4678,"r":55.4,"mc":242,"sl":208,"hs":156,"sq":15},
{"d":"2017-11-01","o":10198,"h":10400,"l":9950,"c":10077,"v":3438,"r":52.3,"mc":251,"sl":225,"hs":125,"sq":15},
{"d":"2017-12-01","o":10077,"h":10350,"l":9900,"c":10044,"v":2860,"r":54.3,"mc":212,"sl":225,"hs":69,"sq":16},
{"d":"2018-01-01","o":10044,"h":10600,"l":10000,"c":10452,"v":3438,"r":55.4,"mc":195,"sl":203,"hs":69,"sq":16},
{"d":"2018-02-01","o":10452,"h":10500,"l":9550,"c":9840,"v":3769,"r":48.6,"mc":165,"sl":169,"hs":17,"sq":16},
{"d":"2018-03-01","o":9840,"h":9900,"l":9300,"c":9600,"v":3355,"r":45.6,"mc":130,"sl":134,"hs":-39,"sq":16},
{"d":"2018-04-01","o":9600,"h":10100,"l":9400,"c":9981,"v":2612,"r":49.3,"mc":61,"sl":108,"hs":-48,"sq":16},
{"d":"2018-05-01","o":9981,"h":10250,"l":9400,"c":9466,"v":4017,"r":45.6,"mc":22,"sl":87,"hs":-78,"sq":16},
{"d":"2018-06-01","o":9466,"h":9900,"l":9300,"c":9623,"v":3851,"r":46.3,"mc":13,"sl":74,"hs":-78,"sq":16},
{"d":"2018-07-01","o":9623,"h":9900,"l":9600,"c":9871,"v":3355,"r":50.5,"mc":9,"sl":61,"hs":-69,"sq":16},
{"d":"2018-08-01","o":9871,"h":9900,"l":9300,"c":9399,"v":3025,"r":44.8,"mc":-17,"sl":52,"hs":-91,"sq":16},
{"d":"2018-09-01","o":9399,"h":9420,"l":9080,"c":9365.3,"v":1442,"r":44.484,"mc":-63.37,"sl":34.596,"hs":-97.966,"sq":16}
],
"maf":[
{"d":"1997-11-01","a":5331,"b":3810,"sq":1,"up":1},
{"d":"1998-01-01","a":5834,"b":4052,"sq":1,"up":1},
{"d":"1998-04-01","a":6632,"b":4443,"sq":1,"up":1},
{"d":"1998-07-01","a":7400,"b":4869,"sq":1,"up":1},
{"d":"1998-10-01","a":8040,"b":5342,"sq":1,"up":1},
{"d":"1999-01-01","a":8615,"b":5851,"sq":1,"up":1},
{"d":"1999-04-01","a":9103,"b":6441,"sq":1,"up":1},
{"d":"1999-07-01","a":9329,"b":7054,"sq":1,"up":1},
{"d":"1999-10-01","a":9667,"b":7594,"sq":1,"up":1},
{"d":"2000-01-01","a":9914,"b":8167,"sq":1,"up":1},
{"d":"2000-04-01","a":10200,"b":8707,"sq":1,"up":1},
{"d":"2000-07-01","a":10444,"b":9081,"sq":1,"up":1},
{"d":"2000-10-01","a":10511,"b":9262,"sq":1,"up":1},
{"d":"2001-01-01","a":10493,"b":9394,"sq":1,"up":1},
{"d":"2001-04-01","a":10446,"b":9492,"sq":1,"up":1},
{"d":"2001-07-01","a":10224,"b":9563,"sq":1,"up":1},
{"d":"2001-10-01","a":9747,"b":9602,"sq":1,"up":1},
{"d":"2001-11-01","a":9610,"b":9610,"sq":1,"up":1},
{"d":"2001-11-01","a":9610,"b":9610,"sq":2,"up":0},
{"d":"2002-01-01","a":9335,"b":9625,"sq":2,"up":0},
{"d":"2002-04-01","a":8936,"b":9582,"sq":2,"up":0},
{"d":"2002-07-01","a":8516,"b":9442,"sq":2,"up":0},
{"d":"2002-10-01","a":8040,"b":9200,"sq":2,"up":0},
{"d":"2003-01-01","a":7442,"b":8871,"sq":2,"up":0},
{"d":"2003-04-01","a":7052,"b":8561,"sq":2,"up":0},
{"d":"2003-07-01","a":6838,"b":8316,"sq":2,"up":0},
{"d":"2003-10-01","a":6710,"b":8083,"sq":2,"up":0},
{"d":"2004-01-01","a":6605,"b":7941,"sq":2,"up":0},
{"d":"2004-04-01","a":6743,"b":7861,"sq":2,"up":0},
{"d":"2004-07-01","a":7127,"b":7807,"sq":2,"up":0},
{"d":"2004-10-01","a":7495,"b":7751,"sq":2,"up":0},
{"d":"2004-11-13","a":7730,"b":7730,"sq":2,"up":0},
{"d":"2004-11-13","a":7730,"b":7730,"sq":3,"up":1},
{"d":"2005-01-01","a":7962,"b":7708,"sq":3,"up":1},
{"d":"2005-04-01","a":8310,"b":7700,"sq":3,"up":1},
{"d":"2005-07-01","a":8617,"b":7751,"sq":3,"up":1},
{"d":"2005-10-01","a":9045,"b":7844,"sq":3,"up":1},
{"d":"2006-01-01","a":9558,"b":8046,"sq":3,"up":1},
{"d":"2006-04-01","a":10103,"b":8319,"sq":3,"up":1},
{"d":"2006-07-01","a":10674,"b":8698,"sq":3,"up":1},
{"d":"2006-10-01","a":11265,"b":9207,"sq":3,"up":1},
{"d":"2007-01-01","a":11923,"b":9597,"sq":3,"up":1},
{"d":"2007-04-01","a":12534,"b":10000,"sq":3,"up":1},
{"d":"2007-07-01","a":13119,"b":10472,"sq":3,"up":1},
{"d":"2007-10-01","a":13687,"b":10950,"sq":3,"up":1},
{"d":"2008-01-01","a":14178,"b":11354,"sq":3,"up":1},
{"d":"2008-04-01","a":14417,"b":11657,"sq":3,"up":1},
{"d":"2008-07-01","a":14275,"b":11890,"sq":3,"up":1},
{"d":"2008-10-01","a":13648,"b":12038,"sq":3,"up":1},
{"d":"2009-01-01","a":12695,"b":12052,"sq":3,"up":1},
{"d":"2009-03-07","a":12030,"b":12030,"sq":3,"up":1},
{"d":"2009-03-07","a":12030,"b":12030,"sq":4,"up":0},
{"d":"2009-04-01","a":11841,"b":12022,"sq":4,"up":0},
{"d":"2009-07-01","a":11095,"b":12068,"sq":4,"up":0},
{"d":"2009-10-01","a":10624,"b":12150,"sq":4,"up":0},
{"d":"2010-01-01","a":10376,"b":12183,"sq":4,"up":0},
{"d":"2010-04-01","a":10191,"b":12133,"sq":4,"up":0},
{"d":"2010-07-01","a":10103,"b":12062,"sq":4,"up":0},
{"d":"2010-10-01","a":10103,"b":11963,"sq":4,"up":0},
{"d":"2011-01-01","a":10139,"b":11800,"sq":4,"up":0},
{"d":"2011-04-01","a":10203,"b":11601,"sq":4,"up":0},
{"d":"2011-07-01","a":10249,"b":11346,"sq":4,"up":0},
{"d":"2011-10-01","a":10158,"b":11006,"sq":4,"up":0},
{"d":"2012-01-01","a":9937,"b":10616,"sq":4,"up":0},
{"d":"2012-04-01","a":9644,"b":10171,"sq":4,"up":0},
{"d":"2012-07-01","a":9309,"b":9771,"sq":4,"up":0},
{"d":"2012-10-01","a":8913,"b":9447,"sq":4,"up":0},
{"d":"2013-01-01","a":8325,"b":9339,"sq":4,"up":0},
{"d":"2013-04-01","a":7924,"b":9271,"sq":4,"up":0},
{"d":"2013-07-01","a":7856,"b":9207,"sq":4,"up":0},
{"d":"2013-10-01","a":8020,"b":9152,"sq":4,"up":0},
{"d":"2014-01-01","a":8389,"b":9120,"sq":4,"up":0},
{"d":"2014-04-01","a":8857,"b":9098,"sq":4,"up":0},
{"d":"2014-06-15","a":9110,"b":9110,"sq":4,"up":0},
{"d":"2014-06-15","a":9110,"b":9110,"sq":5,"up":1},
{"d":"2014-07-01","a":9307,"b":9122,"sq":5,"up":1},
{"d":"2014-10-01","a":9833,"b":9155,"sq":5,"up":1},
{"d":"2015-01-01","a":10264,"b":9185,"sq":5,"up":1},
{"d":"2015-04-01","a":10541,"b":9218,"sq":5,"up":1},
{"d":"2015-07-01","a":10677,"b":9239,"sq":5,"up":1},
{"d":"2015-10-01","a":10702,"b":9257,"sq":5,"up":1},
{"d":"2016-01-01","a":10574,"b":9283,"sq":5,"up":1},
{"d":"2016-04-01","a":10259,"b":9331,"sq":5,"up":1},
{"d":"2016-07-01","a":9978,"b":9382,"sq":5,"up":1},
{"d":"2016-10-01","a":9705,"b":9518,"sq":5,"up":1},
{"d":"2016-12-25","a":9560,"b":9560,"sq":5,"up":1},
{"d":"2016-12-25","a":9560,"b":9560,"sq":6,"up":0},
{"d":"2017-01-01","a":9498,"b":9590,"sq":6,"up":0},
{"d":"2017-04-01","a":9473,"b":9701,"sq":6,"up":0},
{"d":"2017-07-01","a":9569,"b":9832,"sq":6,"up":0},
{"d":"2017-10-01","a":9717,"b":9935,"sq":6,"up":0},
{"d":"2018-01-01","a":9870,"b":9990,"sq":6,"up":0},
{"d":"2018-04-01","a":9985,"b":10013,"sq":6,"up":0},
{"d":"2018-05-15","a":10005,"b":10005,"sq":6,"up":0},
{"d":"2018-05-15","a":10005,"b":10005,"sq":7,"up":1},
{"d":"2018-07-01","a":10017,"b":9995,"sq":7,"up":1},
{"d":"2018-09-01","a":10081,"b":9979,"sq":7,"up":1}
],
"m100":[
{"d":"2001-09-29","v":6737},{"d":"2002-02-06","v":6989},{"d":"2002-05-19","v":7103},{"d":"2002-09-01","v":7191},{"d":"2002-12-13","v":7280},{"d":"2003-03-26","v":7400},{"d":"2003-07-08","v":7521},{"d":"2003-10-20","v":7644},{"d":"2004-02-03","v":7834},{"d":"2004-05-14","v":7963},{"d":"2004-08-27","v":8164},{"d":"2004-12-10","v":8295},{"d":"2005-05-03","v":8478},{"d":"2005-11-27","v":8805},{"d":"2006-06-22","v":9086},{"d":"2007-01-17","v":9378},{"d":"2007-08-11","v":9707},{"d":"2007-11-23","v":9855},{"d":"2008-03-06","v":9955},{"d":"2008-07-09","v":9986},{"d":"2008-11-12","v":9933},{"d":"2009-03-15","v":9855},{"d":"2009-07-17","v":9877},{"d":"2009-11-20","v":9969},{"d":"2010-03-02","v":10086},{"d":"2010-06-14","v":10167},{"d":"2010-09-27","v":10245},{"d":"2011-01-09","v":10386},{"d":"2011-04-21","v":10534},{"d":"2011-08-03","v":10652},{"d":"2011-11-16","v":10735},{"d":"2012-02-28","v":10760},{"d":"2012-06-30","v":10717},{"d":"2013-01-25","v":10692},{"d":"2013-08-20","v":10659},{"d":"2014-03-14","v":10634},{"d":"2014-10-09","v":10592},{"d":"2015-01-21","v":10484},{"d":"2015-05-04","v":10386},{"d":"2015-08-16","v":10240},{"d":"2015-11-28","v":10096},{"d":"2016-03-11","v":9940},{"d":"2016-06-23","v":9791},{"d":"2016-10-05","v":9601},{"d":"2017-01-18","v":9526},{"d":"2017-08-12","v":9563},{"d":"2017-11-25","v":9638},{"d":"2018-03-07","v":9615},{"d":"2018-09-01","v":9534}
],
"m200":[
{"d":"2010-01-21","v":8432},{"d":"2010-06-14","v":8565},{"d":"2011-01-09","v":8737},{"d":"2011-08-03","v":8948},{"d":"2012-02-28","v":9200},{"d":"2012-06-30","v":9318},{"d":"2013-01-25","v":9563},{"d":"2013-08-20","v":9676},{"d":"2014-03-14","v":9752},{"d":"2014-10-09","v":9791},{"d":"2015-05-04","v":9830},{"d":"2015-11-28","v":9867},{"d":"2016-06-23","v":9830},{"d":"2017-01-18","v":9768},{"d":"2017-08-12","v":9768},{"d":"2018-03-07","v":9784},{"d":"2018-09-01","v":9842}
],
"chan":[{"d":"2007-12-01","t":16020,"b":7235},{"d":"2019-04-28","t":10125,"b":4573}],
"pur":[{"d":"2017-04-21","t":11152,"b":10179},{"d":"2019-04-28","t":9421,"b":8611}],
"drw":[
{"ln":"top","d":"2007-12-01","v":16020},{"ln":"top","d":"2019-04-28","v":10125},
{"ln":"mid","d":"2007-12-01","v":10780},{"ln":"mid","d":"2019-04-28","v":6813},
{"ln":"bot","d":"2007-12-01","v":7235},{"ln":"bot","d":"2019-04-28","v":4573},
{"ln":"grn","d":"2010-01-12","v":5015},{"ln":"grn","d":"2019-04-28","v":9096},
{"ln":"ptop","d":"2017-04-21","v":11152},{"ln":"ptop","d":"2019-04-28","v":9421},
{"ln":"pbot","d":"2017-04-21","v":10179},{"ln":"pbot","d":"2019-04-28","v":8611}
],
"lv":[{"d":"1997-11-03","v":9327.6,"t":"9.327,6"},{"d":"1997-11-03","v":8512.4,"t":"8.512,4"},{"d":"1997-11-03","v":7579.8,"t":"7.579,8"},{"d":"1997-11-03","v":5060,"t":"© ProRealTime.com"}],
"mtr":[{"ln":"r","d":"2004-10-30","v":1692},{"ln":"r","d":"2019-04-28","v":95},{"ln":"g","d":"2007-12-25","v":-1446},{"ln":"g","d":"2019-04-28","v":-164}],
"flg":[
{"p":"P","d":"2019-04-28","v":10080.82,"t":"10.080,82"},
{"p":"P","d":"2019-04-28","v":9842.32,"t":"9.842,32"},
{"p":"P","d":"2019-04-28","v":9533.66,"t":"9.533,66"},
{"p":"Q","d":"2019-04-28","v":9365.3,"t":"9.365,30"},
{"p":"R","d":"2019-04-28","v":44.484,"t":"44,484"},
{"p":"V","d":"2019-04-28","v":1442,"t":"1.442k"},
{"p":"M1","d":"2019-04-28","v":34.596,"t":"34,596"},
{"p":"M2","d":"2019-04-28","v":-63.37,"t":"-63,370"},
{"p":"M3","d":"2019-04-28","v":-97.966,"t":"-97,966"}
]
},
"vconcat":[
{
"width":1320,"height":18,
"view":{"stroke":null,"fill":{"gradient":"linear","x1":0,"y1":0,"x2":0,"y2":1,"stops":[{"offset":0,"color":"#dbe8ef"},{"offset":1,"color":"#a7c3d3"}]}},
"data":{"name":"hdr"},
"layer":[
{"transform":[{"filter":"datum.pos == 'L'"}],"mark":{"type":"text","align":"left","baseline":"middle","fontWeight":"bold","fontSize":11.5,"color":"#000000"},
"encoding":{"x":{"field":"pos","type":"nominal","scale":{"type":"point","domain":["L","R"],"range":[22,1316],"padding":0},"axis":null},"text":{"field":"t"}}},
{"transform":[{"filter":"datum.pos == 'R'"}],"mark":{"type":"text","align":"right","baseline":"middle","fontWeight":"bold","fontSize":11.5,"color":"#000000"},
"encoding":{"x":{"field":"pos","type":"nominal","scale":{"type":"point","domain":["L","R"],"range":[22,1316],"padding":0},"axis":null},"text":{"field":"t"}}}
]
},
{
"width":1260,"height":516,
"view":{"fill":{"gradient":"linear","x1":0,"y1":0,"x2":0,"y2":1,"stops":[{"offset":0,"color":"#ffffff"},{"offset":1,"color":"#e8eefb"}]}},
"layer":[
{"data":{"name":"chan"},"mark":{"type":"area","clip":true,"color":"#dc8e9e","opacity":0.42},
"encoding":{"x":{"field":"d","type":"temporal","scale":{"domain":["1997-11-03","2019-04-28"]},"axis":null},
"y":{"field":"t","type":"quantitative","scale":{"type":"log","domain":[5040,17050],"nice":false,"zero":false},
"axis":{"orient":"right","values":[6000,7000,8000,9000,10000,11000,12000,13000,14000,15000,16000],"labelExpr":"datum.value == 10000 || datum.value == 15000 ? '' : replace(format(datum.value, ','), ',', '.')","tickSize":4,"labelPadding":3}},
"y2":{"field":"b"}}},
{"data":{"name":"maf"},"mark":{"type":"area","clip":true,"opacity":0.45},
"encoding":{"x":{"field":"d","type":"temporal"},"y":{"field":"a","type":"quantitative"},"y2":{"field":"b"},"detail":{"field":"sq"},
"fill":{"condition":{"test":"datum.up == 1","value":"#7fe87f"},"value":"#ee7a7a"}}},
{"data":{"name":"maf"},"mark":{"type":"line","clip":true,"strokeWidth":1,"strokeDash":[4,3]},
"encoding":{"x":{"field":"d","type":"temporal"},"y":{"field":"b","type":"quantitative"},
"stroke":{"datum":"MM (Simple 50)","type":"nominal","scale":{"domain":["Precio","MM (Simple 20)","MM (Simple 50)","MM (Simple 200)","MM (Simple 100)"],"range":["#000000","#f4a0a0","#33cc11","#e26060","#3a3aff"]},
"legend":{"title":null,"orient":"top-left","offset":1,"direction":"horizontal","symbolSize":0,"symbolOpacity":0,"labelOffset":0,"columnPadding":8,"padding":2,"fillColor":"#c6d4e0","strokeColor":"#8b9bab",
"encode":{"labels":{"update":{"fill":{"signal":"datum.value === 'Precio' ? '#000000' : datum.value === 'MM (Simple 20)' ? '#f29b9b' : datum.value === 'MM (Simple 50)' ? '#22bb00' : datum.value === 'MM (Simple 200)' ? '#e25a5a' : '#3030ff'"}}}}}}}},
{"data":{"name":"maf"},"mark":{"type":"line","clip":true,"strokeWidth":1,"strokeDash":[4,3]},
"encoding":{"x":{"field":"d","type":"temporal"},"y":{"field":"a","type":"quantitative"},"stroke":{"datum":"MM (Simple 20)","type":"nominal"}}},
{"data":{"name":"m100"},"mark":{"type":"line","clip":true,"strokeWidth":1,"strokeDash":[4,3]},
"encoding":{"x":{"field":"d","type":"temporal"},"y":{"field":"v","type":"quantitative"},"stroke":{"datum":"MM (Simple 100)","type":"nominal"}}},
{"data":{"name":"m200"},"mark":{"type":"line","clip":true,"strokeWidth":1,"strokeDash":[4,3]},
"encoding":{"x":{"field":"d","type":"temporal"},"y":{"field":"v","type":"quantitative"},"stroke":{"datum":"MM (Simple 200)","type":"nominal"}}},
{"mark":{"type":"rule","color":"#ff7f2a","strokeWidth":1},"encoding":{"y":{"datum":8512.4,"type":"quantitative"}}},
{"mark":{"type":"rule","color":"#2020c8","strokeWidth":1},"encoding":{"y":{"datum":7579.8,"type":"quantitative"}}},
{"data":{"name":"mn"},"mark":{"type":"rule","clip":true,"color":"#2d5a12","strokeWidth":1},
"encoding":{"x":{"field":"d","type":"temporal"},"y":{"field":"l","type":"quantitative"},"y2":{"field":"h"}}},
{"data":{"name":"mn"},"mark":{"type":"bar","clip":true,"width":3.6,"stroke":"#2d5a12","strokeWidth":0.8},
"encoding":{"x":{"field":"d","type":"temporal"},"y":{"field":"o","type":"quantitative"},"y2":{"field":"c"},
"fill":{"condition":{"test":"datum.c >= datum.o","value":"#4ccf44"},"value":"#e26a6a"}}},
{"data":{"name":"pur"},"mark":{"type":"area","clip":true,"color":"#a23dbd","opacity":0.42},
"encoding":{"x":{"field":"d","type":"temporal"},"y":{"field":"t","type":"quantitative"},"y2":{"field":"b"}}},
{"data":{"name":"drw"},"transform":[{"filter":"datum.ln == 'ptop' || datum.ln == 'pbot'"}],"mark":{"type":"line","clip":true,"color":"#9a30d0","strokeWidth":1},
"encoding":{"x":{"field":"d","type":"temporal"},"y":{"field":"v","type":"quantitative"},"detail":{"field":"ln"}}},
{"data":{"name":"drw"},"transform":[{"filter":"datum.ln == 'top' || datum.ln == 'mid' || datum.ln == 'bot'"}],"mark":{"type":"line","clip":true,"color":"#ff0000","strokeWidth":4},
"encoding":{"x":{"field":"d","type":"temporal"},"y":{"field":"v","type":"quantitative"},"detail":{"field":"ln"}}},
{"mark":{"type":"rule","color":"#ff0000","strokeWidth":5},"encoding":{"y":{"datum":9327.6,"type":"quantitative"}}},
{"data":{"name":"drw"},"transform":[{"filter":"datum.ln == 'grn'"}],"mark":{"type":"line","clip":true,"color":"#2a9a2a","strokeWidth":1},
"encoding":{"x":{"field":"d","type":"temporal"},"y":{"field":"v","type":"quantitative"}}},
{"data":{"name":"lv"},"mark":{"type":"text","align":"left","baseline":"bottom","dx":1,"dy":-1,"fontSize":11,"color":"#000000"},
"encoding":{"x":{"field":"d","type":"temporal"},"y":{"field":"v","type":"quantitative"},"text":{"field":"t"}}},
{"data":{"name":"flg"},"transform":[{"filter":"datum.p == 'P'"}],"mark":{"type":"point","shape":"M0,-0.125L1,-0.125L1,0.125L0,0.125Z","size":12544,"filled":true,"fill":"#e8eef5","stroke":"#8b9bab","strokeWidth":1,"opacity":1,"xOffset":2},
"encoding":{"x":{"field":"d","type":"temporal"},"y":{"field":"v","type":"quantitative"}}},
{"data":{"name":"flg"},"transform":[{"filter":"datum.p == 'Q'"}],"mark":{"type":"point","shape":"M0,-0.125L1,-0.125L1,0.125L0,0.125Z","size":12544,"filled":true,"fill":"#ffd500","stroke":"#777777","strokeWidth":1,"opacity":1,"xOffset":2},
"encoding":{"x":{"field":"d","type":"temporal"},"y":{"field":"v","type":"quantitative"}}},
{"data":{"name":"flg"},"transform":[{"filter":"datum.p == 'P' || datum.p == 'Q'"}],"mark":{"type":"text","align":"left","baseline":"middle","dx":4,"fontSize":12},
"encoding":{"x":{"field":"d","type":"temporal"},"y":{"field":"v","type":"quantitative"},"text":{"field":"t"},
"color":{"field":"t","type":"nominal","scale":{"domain":["10.080,82","9.842,32","9.533,66","9.365,30"],"range":["#f08a8a","#e04848","#3a3aff","#000000"]},"legend":null}}}
]
},
{
"width":1260,"height":98,
"view":{"fill":"#e4ebfa"},
"resolve":{"scale":{"y":"independent"}},
"data":{"name":"mn"},
"layer":[
{"mark":{"type":"area","color":"#6fd86f","opacity":0.5},
"encoding":{"x":{"field":"d","type":"temporal","scale":{"domain":["1997-11-03","2019-04-28"]},"axis":null},
"y":{"field":"r","type":"quantitative","scale":{"domain":[70,109],"range":[33.67,0],"clamp":true,"nice":false,"zero":false},"axis":null},"y2":{"datum":70}}},
{"mark":{"type":"area","color":"#e87a7a","opacity":0.5},
"encoding":{"x":{"field":"d","type":"temporal"},
"y":{"field":"r","type":"quantitative","scale":{"domain":[-4.5,30],"range":[98,68.21],"clamp":true,"nice":false,"zero":false},"axis":null},"y2":{"datum":30}}},
{"mark":{"type":"rule","color":"#000000","strokeWidth":1},"encoding":{"y":{"datum":70,"type":"quantitative","scale":{"domain":[-4.5,109],"nice":false,"zero":false},"axis":null}}},
{"mark":{"type":"rule","color":"#000000","strokeWidth":1},"encoding":{"y":{"datum":30,"type":"quantitative","scale":{"domain":[-4.5,109],"nice":false,"zero":false},"axis":null}}},
{"mark":{"type":"line","strokeWidth":1},
"encoding":{"x":{"field":"d","type":"temporal"},
"y":{"field":"r","type":"quantitative","scale":{"domain":[-4.5,109],"nice":false,"zero":false},
"axis":{"orient":"right","values":[20,40,60,80,100],"labelExpr":"datum.value == 40 ? '' : datum.label","tickSize":4,"labelPadding":3,"labelFontWeight":{"condition":{"test":"datum.value == 100","value":"bold"},"value":"normal"}}},
"stroke":{"datum":"RSI ( 14)","type":"nominal","scale":{"range":["#000000"]},"legend":{"title":null,"orient":"top-left","offset":1,"symbolSize":0,"symbolOpacity":0,"labelOffset":0,"padding":2,"fillColor":"#c6d4e0","strokeColor":"#8b9bab","labelColor":"#000000"}}}},
{"data":{"name":"flg"},"transform":[{"filter":"datum.p == 'R'"}],"mark":{"type":"point","shape":"M0,-0.125L1,-0.125L1,0.125L0,0.125Z","size":8100,"filled":true,"fill":"#e8eef5","stroke":"#8b9bab","strokeWidth":1,"opacity":1,"xOffset":2},
"encoding":{"x":{"field":"d","type":"temporal"},"y":{"field":"v","type":"quantitative","scale":{"domain":[-4.5,109],"nice":false,"zero":false},"axis":null}}},
{"data":{"name":"flg"},"transform":[{"filter":"datum.p == 'R'"}],"mark":{"type":"text","align":"left","baseline":"middle","dx":4,"fontSize":12,"color":"#000000"},
"encoding":{"x":{"field":"d","type":"temporal"},"y":{"field":"v","type":"quantitative","scale":{"domain":[-4.5,109],"nice":false,"zero":false},"axis":null},"text":{"field":"t"}}}
]
},
{
"width":1260,"height":111,
"view":{"fill":"#e4ebfa"},
"resolve":{"scale":{"y":"independent"}},
"layer":[
{"data":{"name":"mn"},"transform":[{"filter":"isValid(datum.v)"}],"mark":{"type":"bar","width":3,"strokeWidth":0},
"encoding":{"x":{"field":"d","type":"temporal","scale":{"domain":["1997-11-03","2019-04-28"]},"axis":null},
"y":{"field":"v","type":"quantitative","scale":{"domain":[0,9140],"nice":false,"zero":false},
"axis":{"orient":"right","values":[1000,2000,3000,4000,5000,6000,7000,8000,9000],"labelExpr":"(datum.value / 1000) % 2 == 1 ? '' : (datum.value / 1000) + '.000k'","tickSize":4,"labelPadding":3,"labelOverlap":false,"labelBound":false}},
"fill":{"condition":{"test":"datum.c >= datum.o","value":"#55d455"},"value":"#e06464"},
"stroke":{"datum":"Volumen","type":"nominal","scale":{"range":["#e06a6a"]},"legend":{"title":null,"orient":"top-left","offset":1,"symbolSize":0,"symbolOpacity":0,"labelOffset":0,"padding":2,"fillColor":"#c6d4e0","strokeColor":"#8b9bab","labelColor":"#e06a6a"}}}},
{"data":{"name":"flg"},"transform":[{"filter":"datum.p == 'V'"}],"mark":{"type":"point","shape":"M0,-0.125L1,-0.125L1,0.125L0,0.125Z","size":6400,"filled":true,"fill":"#e8eef5","stroke":"#8b9bab","strokeWidth":1,"opacity":1,"xOffset":2},
"encoding":{"x":{"field":"d","type":"temporal","scale":{"domain":["1997-11-03","2019-04-28"]},"axis":null},"y":{"field":"v","type":"quantitative","scale":{"domain":[0,9140],"nice":false,"zero":false},"axis":null}}},
{"data":{"name":"flg"},"transform":[{"filter":"datum.p == 'V'"}],"mark":{"type":"text","align":"left","baseline":"middle","dx":4,"fontSize":12,"color":"#e05a5a"},
"encoding":{"x":{"field":"d","type":"temporal","scale":{"domain":["1997-11-03","2019-04-28"]},"axis":null},"y":{"field":"v","type":"quantitative","scale":{"domain":[0,9140],"nice":false,"zero":false},"axis":null},"text":{"field":"t"}}}
]
},
{
"width":1260,"height":242,
"view":{"fill":"#e1e8fa"},
"layer":[
{"data":{"name":"mn"},"mark":{"type":"area","clip":true,"opacity":0.55},
"encoding":{"x":{"field":"d","type":"temporal","scale":{"domain":["1997-11-03","2019-04-28"]},
"axis":{"orient":"bottom","format":"%Y","values":[{"year":1999},{"year":2000},{"year":2001},{"year":2002},{"year":2003},{"year":2004},{"year":2005},{"year":2006},{"year":2007},{"year":2008},{"year":2009},{"year":2010},{"year":2011},{"year":2012},{"year":2013},{"year":2014},{"year":2015},{"year":2016},{"year":2017},{"year":2018},{"year":2019}],"tickSize":4,"labelPadding":2,"labelFontSize":11}},
"y":{"field":"mc","type":"quantitative","scale":{"domain":[-1438,1679],"nice":false,"zero":false},
"axis":{"orient":"right","values":[-1000,-500,0,500,1000,1500],"labelExpr":"datum.value == 0 ? '' : replace(format(datum.value, ','), ',', '.')","tickSize":4,"labelPadding":3}},
"y2":{"field":"sl"},"detail":{"field":"sq"},
"fill":{"condition":{"test":"datum.mc >= datum.sl","value":"#3fd83f"},"value":"#cc4a4a"}}},
{"data":{"name":"mn"},"mark":{"type":"bar","width":3,"strokeWidth":0},
"encoding":{"x":{"field":"d","type":"temporal"},"y":{"field":"hs","type":"quantitative"},"y2":{"datum":0},
"fill":{"condition":{"test":"datum.hs >= 0","value":"#44cc44"},"value":"#e06060"},
"stroke":{"datum":"Línea MACD menos Señal","type":"nominal","scale":{"domain":["Línea MACD menos Señal","Señal","MACD Line ( 12 26 9)"],"range":["#e06060","#e06060","#2323dd"]},
"legend":{"title":null,"orient":"top-left","offset":1,"direction":"horizontal","symbolSize":0,"symbolOpacity":0,"labelOffset":0,"columnPadding":6,"padding":2,"fillColor":"#c6d4e0","strokeColor":"#8b9bab",
"encode":{"labels":{"update":{"fill":{"signal":"datum.value === 'MACD Line ( 12 26 9)' ? '#2020e0' : '#e05a5a'"}}}}}}}},
{"mark":{"type":"rule","color":"#2030c8","strokeWidth":1.5},"encoding":{"y":{"datum":0,"type":"quantitative"}}},
{"data":{"name":"mn"},"mark":{"type":"line","strokeWidth":1},
"encoding":{"x":{"field":"d","type":"temporal"},"y":{"field":"sl","type":"quantitative"},"stroke":{"datum":"Señal","type":"nominal"}}},
{"data":{"name":"mn"},"mark":{"type":"line","strokeWidth":1.2},
"encoding":{"x":{"field":"d","type":"temporal"},"y":{"field":"mc","type":"quantitative"},"stroke":{"datum":"MACD Line ( 12 26 9)","type":"nominal"}}},
{"data":{"name":"mtr"},"transform":[{"filter":"datum.ln == 'r'"}],"mark":{"type":"line","clip":true,"color":"#ff2020","strokeWidth":1.2},
"encoding":{"x":{"field":"d","type":"temporal"},"y":{"field":"v","type":"quantitative"}}},
{"data":{"name":"mtr"},"transform":[{"filter":"datum.ln == 'g'"}],"mark":{"type":"line","clip":true,"color":"#2a9a2a","strokeWidth":1.2},
"encoding":{"x":{"field":"d","type":"temporal"},"y":{"field":"v","type":"quantitative"}}},
{"data":{"name":"flg"},"transform":[{"filter":"datum.p == 'M1'"}],"mark":{"type":"point","shape":"M0,-0.125L1,-0.125L1,0.125L0,0.125Z","size":8100,"filled":true,"fill":"#e8eef5","stroke":"#8b9bab","strokeWidth":1,"opacity":1,"xOffset":2,"yOffset":-6},
"encoding":{"x":{"field":"d","type":"temporal"},"y":{"field":"v","type":"quantitative"}}},
{"data":{"name":"flg"},"transform":[{"filter":"datum.p == 'M1'"}],"mark":{"type":"text","align":"left","baseline":"middle","dx":4,"yOffset":-6,"fontSize":12,"color":"#f07070"},
"encoding":{"x":{"field":"d","type":"temporal"},"y":{"field":"v","type":"quantitative"},"text":{"field":"t"}}},
{"data":{"name":"flg"},"transform":[{"filter":"datum.p == 'M2'"}],"mark":{"type":"point","shape":"M0,-0.125L1,-0.125L1,0.125L0,0.125Z","size":8100,"filled":true,"fill":"#e8eef5","stroke":"#8b9bab","strokeWidth":1,"opacity":1,"xOffset":2},
"encoding":{"x":{"field":"d","type":"temporal"},"y":{"field":"v","type":"quantitative"}}},
{"data":{"name":"flg"},"transform":[{"filter":"datum.p == 'M2'"}],"mark":{"type":"text","align":"left","baseline":"middle","dx":4,"fontSize":12,"color":"#2a2ad8"},
"encoding":{"x":{"field":"d","type":"temporal"},"y":{"field":"v","type":"quantitative"},"text":{"field":"t"}}},
{"data":{"name":"flg"},"transform":[{"filter":"datum.p == 'M3'"}],"mark":{"type":"point","shape":"M0,-0.125L1,-0.125L1,0.125L0,0.125Z","size":8100,"filled":true,"fill":"#e8eef5","stroke":"#8b9bab","strokeWidth":1,"opacity":1,"xOffset":2,"yOffset":10},
"encoding":{"x":{"field":"d","type":"temporal"},"y":{"field":"v","type":"quantitative"}}},
{"data":{"name":"flg"},"transform":[{"filter":"datum.p == 'M3'"}],"mark":{"type":"text","align":"left","baseline":"middle","dx":4,"yOffset":10,"fontSize":12,"color":"#f07070"},
"encoding":{"x":{"field":"d","type":"temporal"},"y":{"field":"v","type":"quantitative"},"text":{"field":"t"}}}
]
}
],
"resolve":{"scale":{"x":"independent","y":"independent","color":"independent","stroke":"independent","fill":"independent"}}
}
